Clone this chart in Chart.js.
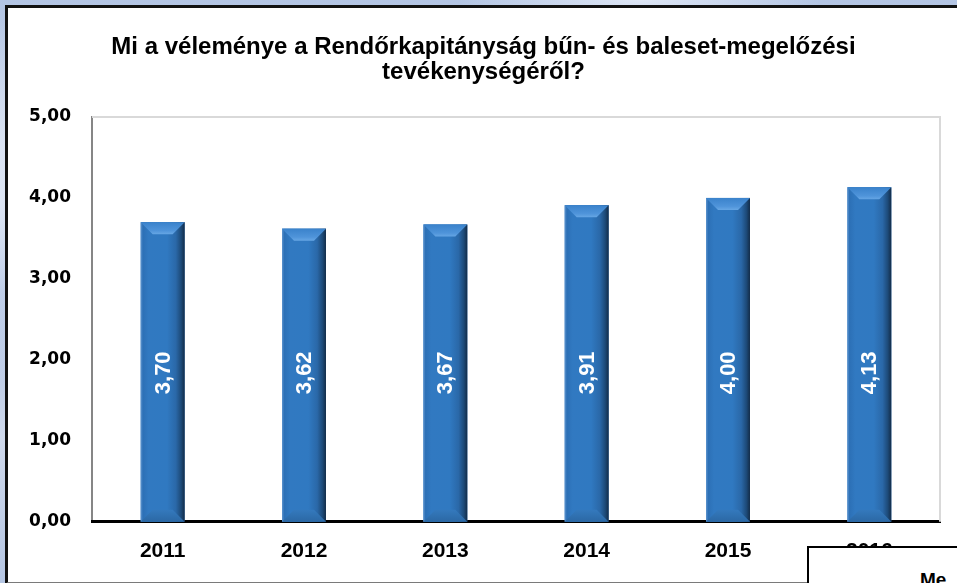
<!DOCTYPE html>
<html>
<head>
<meta charset="utf-8">
<script src="https://cdn.jsdelivr.net/npm/chart.js@4.4.1/dist/chart.umd.min.js"></script>
<style>
  html, body { margin: 0; padding: 0; }
  body {
    width: 957px; height: 583px; overflow: hidden; position: relative;
    background:
      radial-gradient(ellipse 90px 260px at 0px 200px, rgba(235,240,250,0.7), rgba(235,240,250,0) 70%),
      radial-gradient(ellipse 260px 40px at 640px 0px, rgba(240,244,252,0.7), rgba(240,244,252,0) 70%),
      linear-gradient(180deg, #b3c5e4 0%, #cbd7ec 25%, #a9bde0 50%, #cfd9ec 75%, #b5c6e3 100%);
  }
  #frame {
    position: absolute; left: 5px; top: 5px; width: 980px; height: 574px;
    background: #ffffff;
    border-left: 3px solid #111; border-top: 3px solid #111; border-bottom: 2px solid #7a7a7a;
  }
  #chart { position: absolute; left: 0; top: 0; z-index: 1; }
  #note {
    position: absolute; left: 807px; top: 546px; width: 200px; height: 60px;
    background: #ffffff; border: 2px solid #000; z-index: 2;
  }
  #note span {
    position: absolute; left: 111px; top: 21px;
    font: bold 19px "Liberation Sans", Arial, sans-serif; color: #000;
  }
</style>
</head>
<body>
<div id="frame"></div>
<canvas id="chart" width="957" height="583"></canvas>
<div id="note"><span>Me</span></div>
<script>
// Survey averages by year (scale 0–5)
const years = ['2011', '2012', '2013', '2014', '2015', '2016'];
const scores = [3.70, 3.62, 3.67, 3.91, 4.00, 4.13];
const yTicks = [0, 1, 2, 3, 4, 5];
const titleLines = ['Mi a véleménye a Rendőrkapitányság bűn- és baleset-megelőzési', 'tevékenységéről?'];

const huComma = v => Number(v).toFixed(2).replace('.', ',');

// Light frame on the top and right of the plot area
const plotFrame = {
  id: 'plotFrame',
  beforeDatasetsDraw(chart) {
    const { ctx, chartArea: a } = chart;
    ctx.save();
    ctx.strokeStyle = '#d9d9d9';
    ctx.lineWidth = 2;
    ctx.beginPath();
    ctx.moveTo(a.left, a.top);
    ctx.lineTo(a.right, a.top);
    ctx.lineTo(a.right, a.bottom);
    ctx.stroke();
    ctx.restore();
  }
};

// Bevelled shading on top of each bar, plus the value written inside it
const bevelBars = {
  id: 'bevelBars',
  afterDatasetsDraw(chart) {
    const { ctx } = chart;
    const meta = chart.getDatasetMeta(0);
    const yScale = chart.scales.y;
    meta.data.forEach((bar, i) => {
      const p = bar.getProps(['x', 'y', 'base', 'width'], true);
      const l = p.x - p.width / 2, r = p.x + p.width / 2;
      const t = p.y, b = p.base;
      const bv = 12;
      ctx.save();
      // body: light left edge, darker right side
      const g = ctx.createLinearGradient(l, 0, r, 0);
      g.addColorStop(0, '#5f95cf');
      g.addColorStop(0.05, '#2c70b6');
      g.addColorStop(0.18, '#3179c1');
      g.addColorStop(0.6, '#3079c1');
      g.addColorStop(0.8, '#2a68a8');
      g.addColorStop(0.92, '#1d4a78');
      g.addColorStop(1, '#132c48');
      ctx.fillStyle = g;
      ctx.fillRect(l, t, r - l, b - t);
      // top face
      const gt = ctx.createLinearGradient(0, t, 0, t + bv);
      gt.addColorStop(0, '#3a82cb');
      gt.addColorStop(0.7, '#4f94da');
      gt.addColorStop(1, '#66a6e4');
      ctx.fillStyle = gt;
      ctx.beginPath();
      ctx.moveTo(l, t);
      ctx.lineTo(r, t);
      ctx.lineTo(r - bv, t + bv);
      ctx.lineTo(l + bv, t + bv);
      ctx.closePath();
      ctx.fill();
      // bottom face
      const gb = ctx.createLinearGradient(0, b - bv, 0, b);
      gb.addColorStop(0, '#3479bd');
      gb.addColorStop(1, '#2b68a4');
      ctx.fillStyle = gb;
      ctx.beginPath();
      ctx.moveTo(l + bv, b - bv);
      ctx.lineTo(r - bv, b - bv);
      ctx.lineTo(r, b);
      ctx.lineTo(l, b);
      ctx.closePath();
      ctx.fill();
      // value label, rotated
      const ly = yScale.getPixelForValue(1.84);
      ctx.translate(p.x, ly);
      ctx.rotate(-Math.PI / 2);
      ctx.fillStyle = '#ffffff';
      ctx.font = 'bold 22px "Liberation Sans", Arial, sans-serif';
      ctx.textAlign = 'center';
      ctx.textBaseline = 'middle';
      ctx.fillText(huComma(scores[i]), 0, 1);
      ctx.restore();
    });
  }
};

new Chart(document.getElementById('chart'), {
  type: 'bar',
  data: {
    labels: years,
    datasets: [{
      data: scores,
      backgroundColor: '#2f76be',
      borderWidth: 0,
      barPercentage: 0.311,
      categoryPercentage: 1
    }]
  },
  options: {
    responsive: false,
    animation: false,
    devicePixelRatio: 1,
    layout: { padding: { left: 27, right: 17, top: 35, bottom: 2 } },
    plugins: {
      legend: { display: false },
      tooltip: { enabled: false },
      title: {
        display: true,
        text: titleLines,
        color: '#000',
        font: { family: '"Liberation Sans", Arial, sans-serif', size: 24, weight: 'bold', lineHeight: 1.04 },
        padding: { top: 0, bottom: 32 }
      }
    },
    scales: {
      y: {
        min: 0, max: 5,
        afterBuildTicks(s) { s.ticks = yTicks.map(v => ({ value: v })); },
        afterFit(s) { s.width = 65; },
        ticks: {
          color: '#000',
          padding: 21,
          font: { family: '"DejaVu Sans", Verdana, sans-serif', size: 17, weight: 'bold' },
          callback: v => huComma(v)
        },
        grid: { display: false, drawTicks: false },
        border: { display: true, color: '#868686', width: 2 }
      },
      x: {
        ticks: {
          color: '#000',
          padding: 17,
          font: { family: '"Liberation Sans", Arial, sans-serif', size: 21, weight: 'bold' }
        },
        grid: { display: false, drawTicks: false },
        border: { display: true, color: '#000', width: 3 }
      }
    }
  },
  plugins: [plotFrame, bevelBars]
});
</script>
</body>
</html>
